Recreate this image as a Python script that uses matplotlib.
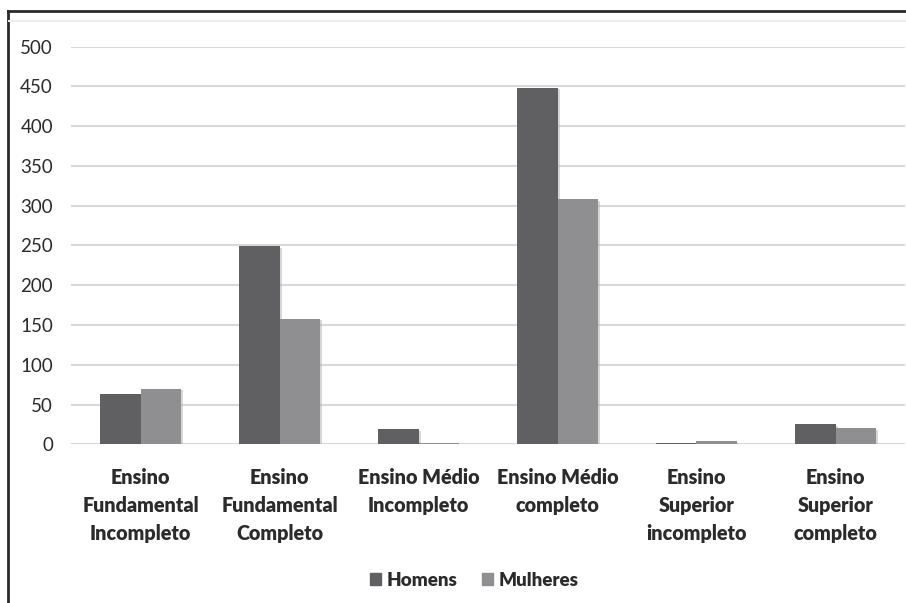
import matplotlib
matplotlib.use("Agg")
import matplotlib.pyplot as plt
import matplotlib.patheffects as pe
import numpy as np
from matplotlib.lines import Line2D

categories = [
    "Ensino\nFundamental\nIncompleto",
    "Ensino\nFundamental\nCompleto",
    "Ensino Médio\nIncompleto",
    "Ensino Médio\ncompleto",
    "Ensino\nSuperior\nincompleto",
    "Ensino\nSuperior\ncompleto",
]
homens = [63, 249, 19, 448, 2, 25]
mulheres = [70, 158, 2, 308, 4, 20]
series_names = ["Homens", "Mulheres"]
yticks = [0, 50, 100, 150, 200, 250, 300, 350, 400, 450, 500]

plt.rcParams["font.family"] = ["Lato", "DejaVu Sans"]

fig = plt.figure(figsize=(9.06, 6.03), dpi=100)
ax = fig.add_axes([71 / 906, 1 - 444.3 / 603, 834 / 906, (444.3 - 46.7) / 603])

x = np.arange(len(categories))
w = 0.29
c_h = "#606063"
c_m = "#8f8f92"
shadow = [pe.SimplePatchShadow(offset=(1.5, -1), shadow_rgbFace="#b0b0b0", alpha=0.5),
          pe.Normal()]
ax.bar(x - w / 2, homens, w, color=c_h, zorder=3, label=series_names[0], path_effects=shadow)
ax.bar(x + w / 2, mulheres, w, color=c_m, zorder=3, label=series_names[1], path_effects=shadow)

ax.set_xlim(-0.5, len(categories) - 0.5)
ax.set_ylim(0, 500)
ax.set_yticks(yticks)
ax.yaxis.grid(True, color="#d9d9d9", linewidth=1.5, zorder=0)
ax.set_axisbelow(True)
for s in ax.spines.values():
    s.set_visible(False)
ax.tick_params(axis="y", length=0, pad=13, labelsize=13.5, labelcolor="#2b2b2b")
ax.tick_params(axis="x", length=0, pad=17)
ax.set_xticks(x)
ax.set_xticklabels(categories, fontsize=14.2, fontweight="heavy", color="#2b2b2b",
                   linespacing=1.58)

leg = fig.legend(handles=[plt.Rectangle((0, 0), 1, 1, color=c_h),
                          plt.Rectangle((0, 0), 1, 1, color=c_m)],
                 labels=series_names, loc="center", bbox_to_anchor=(474 / 906, 1 - 580 / 603),
                 ncol=2, frameon=False, handlelength=0.6, handleheight=0.6,
                 handletextpad=0.3, columnspacing=1.3,
                 prop={"weight": "heavy", "size": 13.5})
for t in leg.get_texts():
    t.set_color("#2b2b2b")

# outer frame lines and faint chart-area edge
fig.add_artist(Line2D([8 / 906, 1], [1 - 11 / 603, 1 - 11 / 603], color="#2a2a2a", lw=2))
fig.add_artist(Line2D([8 / 906, 8 / 906], [0, 1 - 11 / 603], color="#2a2a2a", lw=2))
fig.add_artist(Line2D([9 / 906, 1], [1 - 21 / 603, 1 - 21 / 603], color="#ececec", lw=1.5))

fig.savefig("out.png", dpi=100)
